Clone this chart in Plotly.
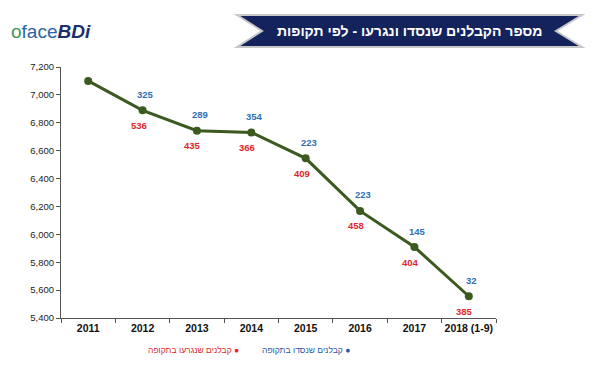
import plotly.graph_objects as go

years = ["2011", "2012", "2013", "2014", "2015", "2016", "2017", "2018 (1-9)"]
contractors = [7100, 6889, 6743, 6731, 6545, 6168, 5909, 5556]
entered = [None, 325, 289, 354, 223, 223, 145, 32]
left_ = [None, 536, 435, 366, 409, 458, 404, 385]
y_ticks = [5400, 5600, 5800, 6000, 6200, 6400, 6600, 6800, 7000, 7200]

# page body has an 8px default margin, so the figure is sized/offset to compensate
OFF = 8
W, H = 602 - OFF, 389 - OFF
L, T = 61 - OFF, 67 - OFF
R = W - (496 - OFF)
B = H - (318 - OFF)
pw, ph = W - L - R, H - T - B

def px(x):  # reference pixel x -> paper
    return (x - OFF - L) / pw

def py(y):  # reference pixel y -> paper
    return (H - B - (y - OFF)) / ph

fig = go.Figure()
fig.add_trace(go.Scatter(
    x=years, y=contractors, mode="lines+markers",
    line=dict(color="#3b5a1f", width=3),
    marker=dict(color="#3b5a1f", size=8),
    hoverinfo="x+y", showlegend=False,
))

annotations = []
for i, (v, e, lv) in enumerate(zip(contractors, entered, left_)):
    if e is not None:
        annotations.append(dict(x=i, y=v, xref="x", yref="y", text=f"<b>{e}</b>",
                                showarrow=False, yshift=16, xshift=3,
                                font=dict(size=9.5, color="#2f6fb5", family="Liberation Sans")))
    if lv is not None:
        annotations.append(dict(x=i, y=v, xref="x", yref="y", text=f"<b>{lv}</b>",
                                showarrow=False, yshift=-15, xshift=-4,
                                font=dict(size=9.5, color="#e0262a", family="Liberation Sans")))

# title banner text
annotations.append(dict(x=px(409), y=py(31), xref="paper", yref="paper",
                        text="<b>מספר הקבלנים שנסדו ונגרעו - לפי תקופות</b>",
                        showarrow=False, xanchor="center", yanchor="middle",
                        font=dict(size=14, color="white", family="Liberation Sans")))
# logo
annotations.append(dict(x=px(9), y=py(32), xref="paper", yref="paper",
                        text="<span style='color:#3a9a5a'>o</span><span style='color:#2b63a8'>face</span>"
                             "<b><i><span style='color:#1c2f6b'>BDi</span></i></b>",
                        showarrow=False, xanchor="left", yanchor="middle",
                        font=dict(size=19, color="#2b63a8", family="Liberation Sans")))
# legend
annotations.append(dict(x=px(193), y=py(350), xref="paper", yref="paper",
                        text="קבלנים שנגרעו בתקופה ●", showarrow=False,
                        xanchor="center", yanchor="middle",
                        font=dict(size=8.5, color="#e0262a", family="Liberation Sans")))
annotations.append(dict(x=px(306), y=py(350), xref="paper", yref="paper",
                        text="קבלנים שנסדו בתקופה ●", showarrow=False,
                        xanchor="center", yanchor="middle",
                        font=dict(size=8.5, color="#2a56a0", family="Liberation Sans")))

banner = (f"M {px(237)},{py(15)} L {px(582)},{py(15)} L {px(556)},{py(31)} "
          f"L {px(582)},{py(47)} L {px(237)},{py(47)} L {px(262)},{py(31)} Z")

fig.update_layout(
    width=W, height=H,
    margin=dict(l=L, r=R, t=T, b=B, autoexpand=False),
    paper_bgcolor="white", plot_bgcolor="white",
    font=dict(family="Liberation Sans", color="#222"),
    annotations=annotations,
    shapes=[dict(type="path", path=banner, xref="paper", yref="paper",
                 fillcolor="#15235c", line=dict(color="#c8c8c8", width=2), layer="above")],
    xaxis=dict(
        type="category", showgrid=False, showline=True, linecolor="#555", linewidth=1,
        ticks="outside", tickson="boundaries", ticklen=4, tickcolor="#555",
        tickangle=0, automargin=False,
        tickfont=dict(size=10.5, color="#111", family="Liberation Sans", weight="bold"),
        range=[-0.5, 7.5],
    ),
    yaxis=dict(
        range=[5400, 7200], tickvals=y_ticks, tickformat=",", showgrid=False,
        showline=True, linecolor="#555", linewidth=1, ticks="outside", ticklen=4,
        tickcolor="#555", zeroline=False, automargin=False,
        tickfont=dict(size=9.5, color="#222", family="Liberation Sans"),
    ),
)

fig.write_html("out.html")
